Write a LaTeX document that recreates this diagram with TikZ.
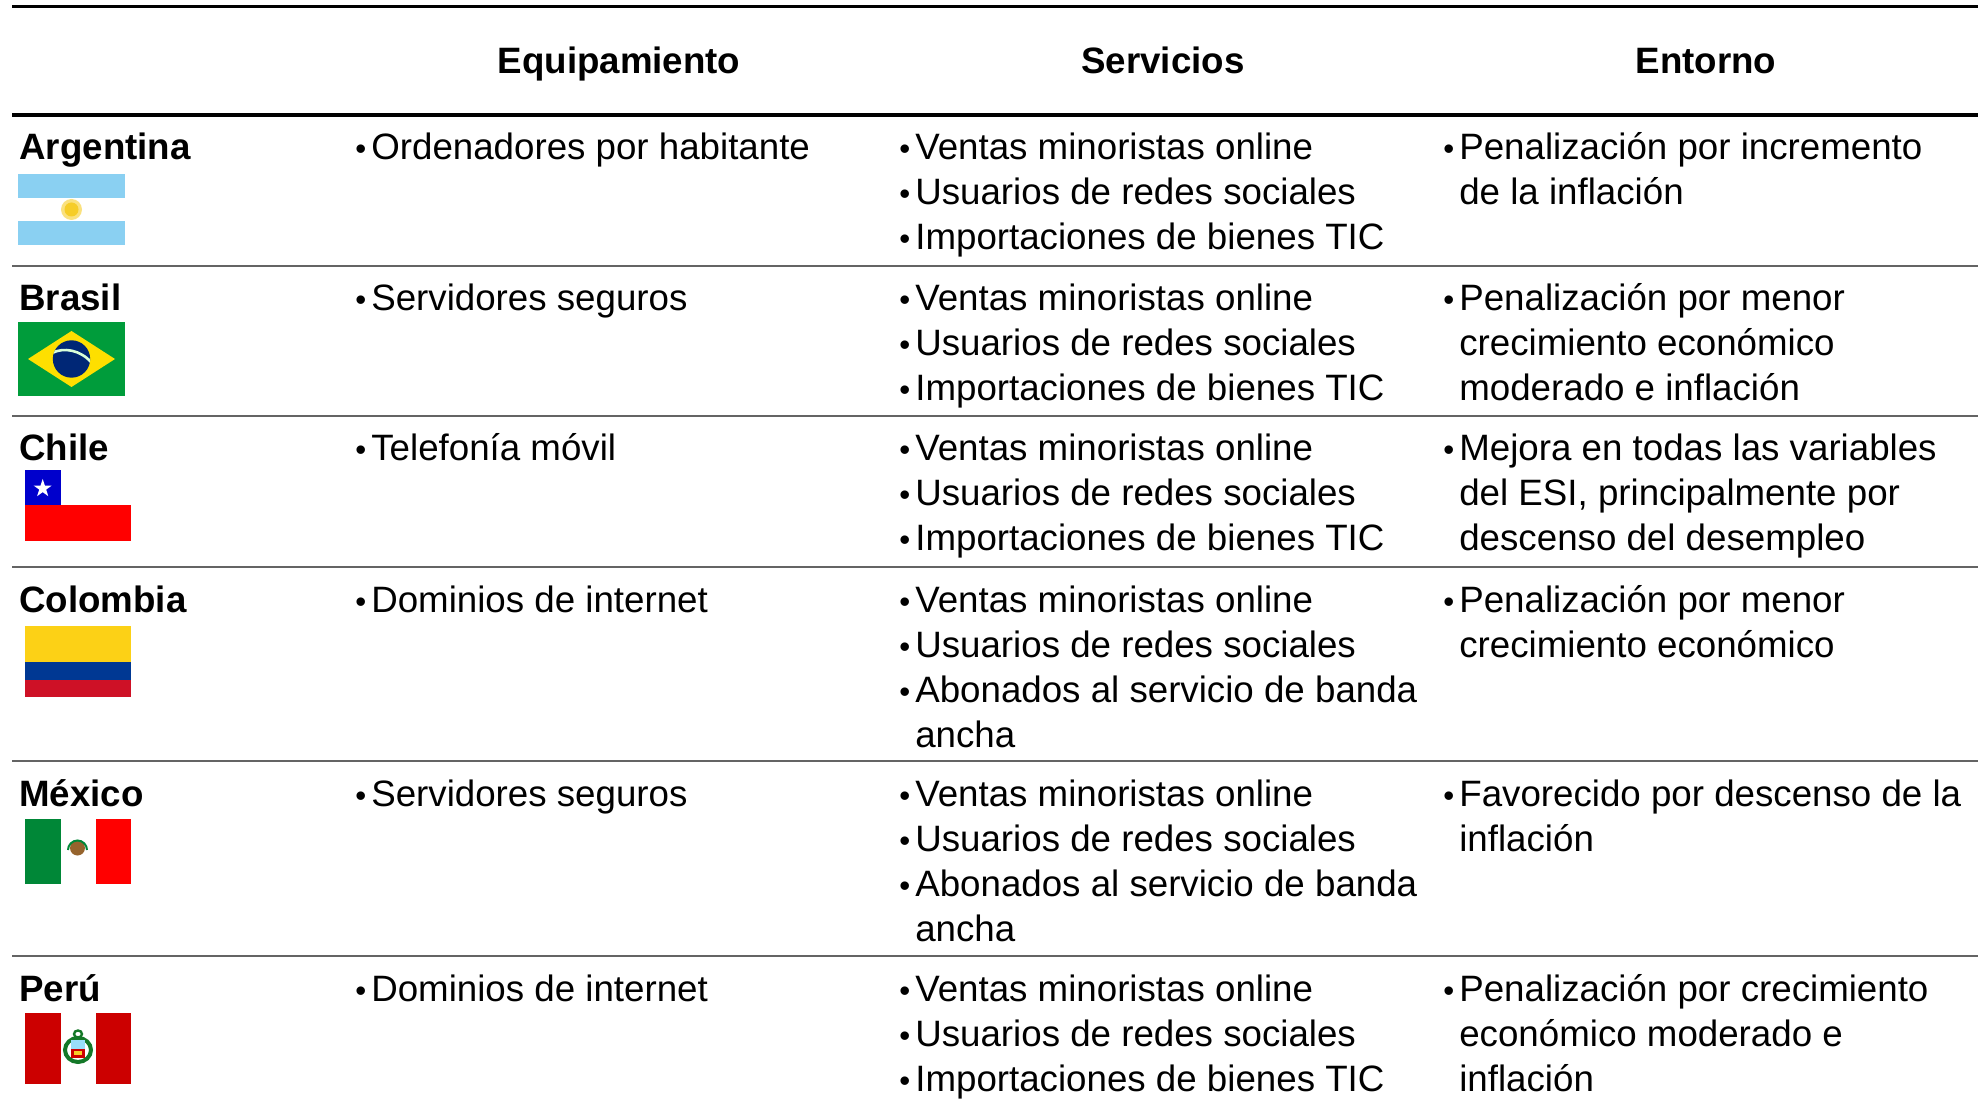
\documentclass[tikz,border=0pt]{standalone}
\usepackage{fontspec}
\setmainfont{Liberation Sans}
\usetikzlibrary{shapes.geometric}
\definecolor{argblue}{RGB}{138,208,242}
\definecolor{sunyel}{RGB}{246,205,40}
\definecolor{brgreen}{RGB}{0,156,59}
\definecolor{bryel}{RGB}{254,223,0}
\definecolor{brblue}{RGB}{0,39,118}
\definecolor{chblue}{RGB}{0,0,204}
\definecolor{chred}{RGB}{255,0,0}
\definecolor{coyel}{RGB}{252,209,22}
\definecolor{coblue}{RGB}{0,56,147}
\definecolor{cored}{RGB}{206,17,38}
\definecolor{mxgreen}{RGB}{0,135,55}
\definecolor{mxred}{RGB}{255,0,0}
\definecolor{mxbrown}{RGB}{150,100,45}
\definecolor{pered}{RGB}{204,0,0}
\definecolor{pegreen}{RGB}{20,120,40}
\definecolor{rulegray}{RGB}{100,100,100}
\newcommand{\bl}{\kern0.5pt\scalebox{0.85}{•}\kern2.5pt}
\newcommand{\hg}{\hphantom{\bl}}
\newcommand{\cellbox}[1]{\begin{tabular}[t]{@{}l@{}}#1\end{tabular}}
\tikzset{
  txt/.style={anchor=base west, inner sep=0pt, font=\fontsize{18.35pt}{22.5pt}\selectfont},
  hdr/.style={anchor=base, inner sep=0pt, font=\fontsize{18.35pt}{22.5pt}\selectfont\bfseries},
  cty/.style={anchor=base west, inner sep=0pt, font=\fontsize{18.35pt}{22.5pt}\selectfont\bfseries},
  thickrule/.style={line width=1.75pt, black},
  rowrule/.style={line width=1pt, rulegray}
}
\begin{document}
\begin{tikzpicture}[x=0.5pt,y=-0.5pt]
\useasboundingbox (0,0) rectangle (1987,1101);
% rules
\coordinate (tl) at (12,6.5); \coordinate (tr) at (1978,6.5);
\coordinate (hl) at (12,115); \coordinate (hr) at (1978,115);
\draw[thickrule] (tl) -- (tr);
\draw[thickrule, line width=2pt] (hl) -- (hr);
\foreach \yy/\nm in {266/a,416/b,567/c,761/d,956/e}{
  \coordinate (l\nm) at (12,\yy); \coordinate (r\nm) at (1978,\yy);
  \draw[rowrule] (l\nm) -- (r\nm);
}
% headers
\node[hdr] (h1) at (619,74) {Equipamiento};
\node[hdr] (h2) at (1163,74) {Servicios};
\node[hdr] (h3) at (1706,74) {Entorno};
% countries
\node[cty] (c1) at (19,160) {Argentina};
\node[cty] (c2) at (19,311) {Brasil};
\node[cty] (c3) at (19,461) {Chile};
\node[cty] (c4) at (19,612) {Colombia};
\node[cty] (c5) at (19,806) {México};
\node[cty] (c6) at (19,1001) {Perú};
% Argentina
\node[txt] (e1) at (354,160) {\cellbox{\bl Ordenadores por habitante}};
\node[txt] (s1) at (898,160) {\cellbox{\bl Ventas minoristas online\\ \bl Usuarios de redes sociales\\ \bl Importaciones de bienes TIC}};
\node[txt] (n1) at (1442,160) {\cellbox{\bl Penalización por incremento\\ \hg de la inflación}};
% Brasil
\node[txt] (e2) at (354,311) {\cellbox{\bl Servidores seguros}};
\node[txt] (s2) at (898,311) {\cellbox{\bl Ventas minoristas online\\ \bl Usuarios de redes sociales\\ \bl Importaciones de bienes TIC}};
\node[txt] (n2) at (1442,311) {\cellbox{\bl Penalización por menor\\ \hg crecimiento económico\\ \hg moderado e inflación}};
% Chile
\node[txt] (e3) at (354,461) {\cellbox{\bl Telefonía móvil}};
\node[txt] (s3) at (898,461) {\cellbox{\bl Ventas minoristas online\\ \bl Usuarios de redes sociales\\ \bl Importaciones de bienes TIC}};
\node[txt] (n3) at (1442,461) {\cellbox{\bl Mejora en todas las variables\\ \hg del ESI, principalmente por\\ \hg descenso del desempleo}};
% Colombia
\node[txt] (e4) at (354,612) {\cellbox{\bl Dominios de internet}};
\node[txt] (s4) at (898,612) {\cellbox{\bl Ventas minoristas online\\ \bl Usuarios de redes sociales\\ \bl Abonados al servicio de banda\\ \hg ancha}};
\node[txt] (n4) at (1442,612) {\cellbox{\bl Penalización por menor\\ \hg crecimiento económico}};
% Mexico
\node[txt] (e5) at (354,806) {\cellbox{\bl Servidores seguros}};
\node[txt] (s5) at (898,806) {\cellbox{\bl Ventas minoristas online\\ \bl Usuarios de redes sociales\\ \bl Abonados al servicio de banda\\ \hg ancha}};
\node[txt] (n5) at (1442,806) {\cellbox{\bl Favorecido por descenso de la\\ \hg inflación}};
% Peru
\node[txt] (e6) at (354,1001) {\cellbox{\bl Dominios de internet}};
\node[txt] (s6) at (898,1001) {\cellbox{\bl Ventas minoristas online\\ \bl Usuarios de redes sociales\\ \bl Importaciones de bienes TIC}};
\node[txt] (n6) at (1442,1001) {\cellbox{\bl Penalización por crecimiento\\ \hg económico moderado e\\ \hg inflación}};
% ---- flags ----
% Argentina
\fill[argblue] (18,174) rectangle (125,197.7);
\fill[argblue] (18,221.3) rectangle (125,245);
\fill[sunyel!60] (71.5,209.5) circle (10.5);
\fill[sunyel] (71.5,209.5) circle (7);
% Brasil
\fill[brgreen] (18,322) rectangle (125,396);
\fill[bryel] (28,359) -- (71.5,331) -- (115,359) -- (71.5,387) -- cycle;
\fill[brblue] (71.5,359) circle (18.7);
\begin{scope}
\clip (71.5,359) circle (18.7);
\draw[white!85!green, line width=1.3pt] (52,353) .. controls (64,347) and (80,350) .. (91,362);
\end{scope}
% Chile
\fill[chred] (25,505.5) rectangle (131,541);
\fill[chblue] (25,470) rectangle (60.5,505.5);
\node[star, star points=5, star point ratio=2.6, fill=white, inner sep=0pt, minimum size=9.5pt] (chstar) at (42.7,488.5) {};
% Colombia
\fill[coyel] (25,626) rectangle (131,662);
\fill[coblue] (25,662) rectangle (131,679.5);
\fill[cored] (25,679.5) rectangle (131,697);
% Mexico
\fill[mxgreen] (25,819) rectangle (60.5,884);
\fill[mxred] (96,819) rectangle (131,884);
\fill[mxbrown] (77.5,848) circle (7.5);
\draw[mxgreen, line width=1pt] (68,850) arc[start angle=180, end angle=0, x radius=9.5, y radius=-9.5];
% Peru
\fill[pered] (25,1013) rectangle (60.5,1084);
\fill[pered] (96,1013) rectangle (131,1084);
\draw[pegreen, line width=2pt] (78,1050) ellipse (13 and 12);
\draw[pegreen, line width=1.2pt] (78,1034) ellipse (4 and 3.5);
\fill[cyan!40] (71,1040) rectangle (85,1049);
\fill[pered] (71,1049) rectangle (85,1058);
\fill[sunyel] (74,1051) rectangle (82,1055);
\end{tikzpicture}
\end{document}
